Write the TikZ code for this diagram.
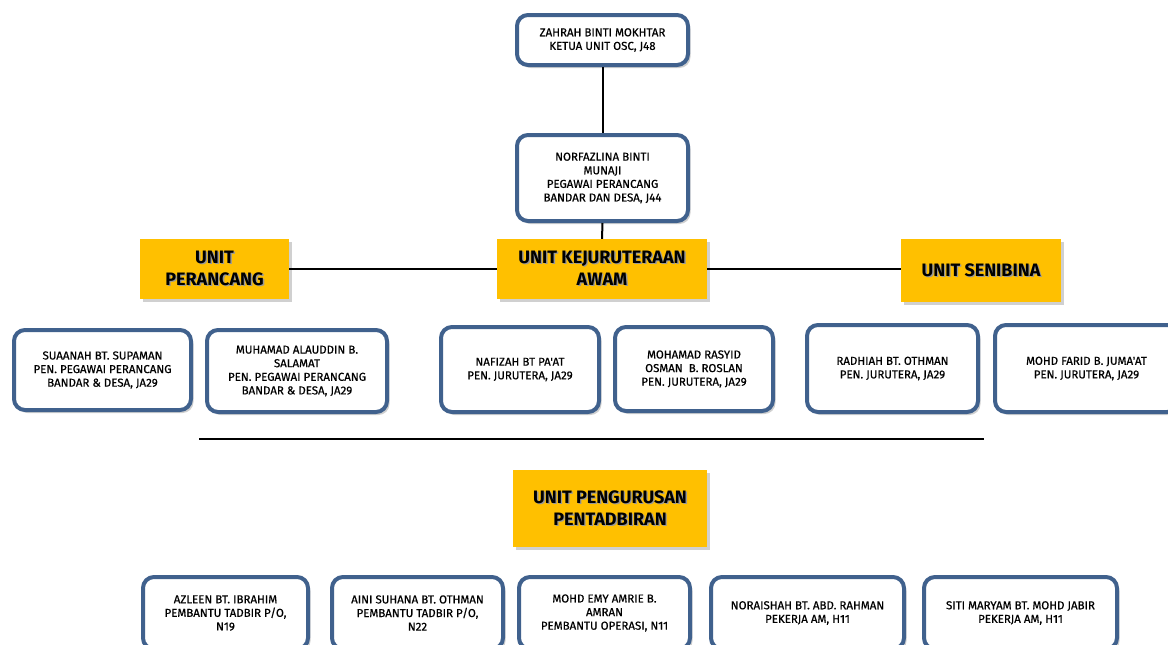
\documentclass[tikz,border=0pt]{standalone}
\usepackage{fontspec}
\setmainfont{Fira Sans}
\newfontfamily\medfont{Fira Sans}[UprightFeatures={FakeBold=0.6}]
\usetikzlibrary{shadows}
\definecolor{bordblue}{RGB}{64,97,141}
\definecolor{unityellow}{RGB}{255,192,0}
\newcommand\shd[1]{\makebox[0pt][l]{\raisebox{-1.4pt}{\hspace{1.4pt}\textcolor{black!40}{#1}}}#1}
\tikzset{
  pbox/.style={draw=bordblue, line width=4pt, rounded corners=11pt, fill=white,
    align=center, inner sep=2pt, font=\medfont\fontsize{11.5}{13.6}\selectfont,
    drop shadow={shadow xshift=2.5pt, shadow yshift=-3pt, opacity=0.3, fill=black!60}},
  ubox/.style={fill=unityellow, align=center, inner sep=2pt,
    font=\fontsize{18}{22}\selectfont\bfseries,
    drop shadow={shadow xshift=3pt, shadow yshift=-3pt, opacity=0.3, fill=black!60}},
  conn/.style={line width=2pt, black}
}
\begin{document}
\begin{tikzpicture}[x=1pt,y=-1pt]
\useasboundingbox[fill=white] (0,0) rectangle (1168,645);
% top boxes
\node[pbox, minimum width=171pt, minimum height=50pt] (ketua) at (602.5,40) {ZAHRAH BINTI MOKHTAR\\KETUA UNIT OSC, J48};
\node[pbox, minimum width=171pt, minimum height=86pt] (norf) at (602.5,178) {NORFAZLINA BINTI\\MUNAJI\\PEGAWAI PERANCANG\\BANDAR DAN DESA, J44};
% unit boxes
\node[ubox, minimum width=149pt, minimum height=60pt] (uper) at (214.5,269) {\shd{UNIT}\\\shd{PERANCANG}};
\node[ubox, minimum width=210pt, minimum height=60pt] (ukej) at (602,269) {\shd{UNIT KEJURUTERAAN}\\\shd{AWAM}};
\node[ubox, minimum width=160pt, minimum height=63pt] (usen) at (981,270.5) {\shd{UNIT SENIBINA}};
\node[ubox, minimum width=194pt, minimum height=77pt] (upen) at (610,508.5) {\shd{UNIT PENGURUSAN}\\\shd{PENTADBIRAN}};
% connectors
\draw[conn] (ketua.south) -- (norf.north);
\draw[conn] (norf.south) -- (ukej.north);
\draw[conn] (uper.east) -- (ukej.west);
\draw[conn] (ukej.east) -- (ukej.east -| usen.west);
\coordinate (sepL) at (199,439);
\coordinate (sepR) at (984,439);
\draw[conn] (sepL) -- (sepR);
% row 2
\node[pbox, minimum width=177pt, minimum height=80pt] (suaanah) at (102.5,370) {SUAANAH BT. SUPAMAN\\PEN. PEGAWAI PERANCANG\\BANDAR \& DESA, JA29};
\node[pbox, minimum width=180pt, minimum height=82pt] (muhamad) at (297,371) {MUHAMAD ALAUDDIN B.\\SALAMAT\\PEN. PEGAWAI PERANCANG\\BANDAR \& DESA, JA29};
\node[pbox, minimum width=158pt, minimum height=85pt] (nafizah) at (520,369.5) {NAFIZAH BT PA'AT\\PEN. JURUTERA, JA29};
\node[pbox, minimum width=158pt, minimum height=84pt] (rasyid) at (694,369) {MOHAMAD RASYID\\OSMAN\ \ B. ROSLAN\\PEN. JURUTERA, JA29};
\node[pbox, minimum width=171pt, minimum height=87pt] (radhiah) at (892.5,368.5) {RADHIAH BT. OTHMAN\\PEN. JURUTERA, JA29};
\node[pbox, minimum width=183pt, minimum height=87pt] (farid) at (1086.5,368.5) {MOHD FARID B. JUMA'AT\\PEN. JURUTERA, JA29};
% row 3
\node[pbox, minimum width=165pt, minimum height=72pt] (azleen) at (225.5,613) {AZLEEN BT. IBRAHIM\\PEMBANTU TADBIR P/O,\\N19};
\node[pbox, minimum width=171pt, minimum height=72pt] (aini) at (417.5,613) {AINI SUHANA BT. OTHMAN\\PEMBANTU TADBIR P/O,\\N22};
\node[pbox, minimum width=171pt, minimum height=72pt] (emy) at (604.5,613) {MOHD EMY AMRIE B.\\AMRAN\\PEMBANTU OPERASI, N11};
\node[pbox, minimum width=193pt, minimum height=72pt] (norai) at (807.5,613) {NORAISHAH BT. ABD. RAHMAN\\PEKERJA AM, H11};
\node[pbox, minimum width=193pt, minimum height=72pt] (siti) at (1020.5,613) {SITI MARYAM BT. MOHD JABIR\\PEKERJA AM, H11};
\end{tikzpicture}
\end{document}
